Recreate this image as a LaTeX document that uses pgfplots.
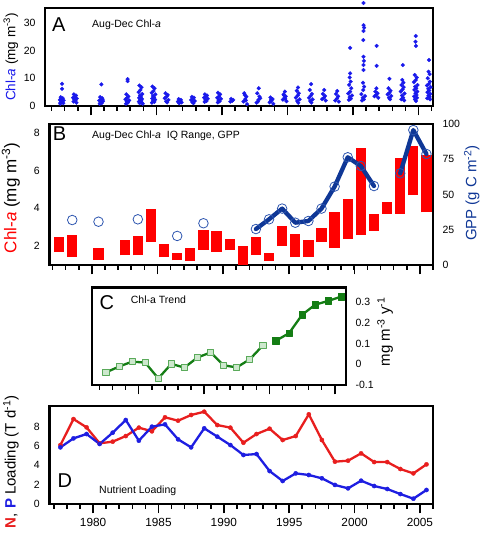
\documentclass[border=0pt]{standalone}
\usepackage{pgfplots}
\usepackage{pgfplotstable}
\pgfplotsset{compat=1.18}
\usepackage{fontspec}
\setmainfont{Liberation Sans}
\definecolor{ablue}{RGB}{25,25,235}
\definecolor{bred}{RGB}{255,0,0}
\definecolor{gppnavy}{RGB}{15,55,150}
\definecolor{gppcirc}{RGB}{45,85,175}
\definecolor{cgreen}{RGB}{20,125,20}
\definecolor{lgreen}{RGB}{90,170,90}
\definecolor{fgreen}{RGB}{205,232,205}
\definecolor{dred}{RGB}{232,30,30}
\definecolor{dblue}{RGB}{30,30,225}

\pgfplotstableread{
x y
1977.80 8.0
1977.80 6.2
1977.70 3.2
1977.86 2.8
1977.78 2.5
1977.64 2.2
1977.92 2.0
1977.74 1.7
1977.82 1.4
1977.68 1.2
1977.90 1.0
1977.76 2.6
1977.84 1.8
1977.66 0.8
1978.70 4.2
1978.86 3.8
1978.78 3.4
1978.64 3.0
1978.92 2.7
1978.74 2.3
1978.82 2.0
1978.68 1.6
1978.90 1.2
1978.76 2.9
1980.80 7.8
1980.70 3.2
1980.86 2.8
1980.78 2.4
1980.64 2.0
1980.92 1.7
1980.74 1.3
1980.82 1.0
1980.68 0.8
1980.90 2.2
1982.80 9.7
1982.80 9.0
1982.70 4.2
1982.86 3.5
1982.78 3.0
1982.64 2.4
1982.92 2.0
1982.74 1.6
1982.82 1.2
1982.68 0.8
1983.70 7.4
1983.86 6.8
1983.78 5.8
1983.64 5.0
1983.92 4.3
1983.74 3.8
1983.82 3.3
1983.68 2.9
1983.90 2.5
1983.76 2.2
1983.84 1.9
1983.66 1.6
1983.88 1.3
1983.72 1.0
1983.96 0.8
1984.70 7.0
1984.86 6.4
1984.78 5.4
1984.64 4.8
1984.92 4.2
1984.74 3.6
1984.82 3.1
1984.68 2.7
1984.90 2.3
1984.76 1.9
1984.84 1.5
1984.66 1.2
1985.70 4.6
1985.86 4.0
1985.78 3.4
1985.64 2.8
1985.92 2.2
1985.74 1.7
1985.82 1.3
1986.70 2.5
1986.86 2.2
1986.78 1.9
1986.64 1.6
1986.92 1.3
1986.74 1.0
1987.70 3.3
1987.86 3.0
1987.78 2.6
1987.64 2.2
1987.92 1.8
1987.74 1.4
1987.82 1.0
1988.70 4.2
1988.86 3.8
1988.78 3.4
1988.64 3.0
1988.92 2.6
1988.74 2.2
1988.82 1.8
1988.68 1.5
1989.70 4.8
1989.86 4.2
1989.78 3.5
1989.64 3.0
1989.92 2.6
1989.74 2.1
1989.82 1.7
1989.68 1.3
1990.70 2.6
1990.86 2.2
1990.78 1.9
1990.64 1.6
1991.70 4.6
1991.86 3.4
1991.78 2.5
1991.64 1.6
1991.92 0.7
1991.74 4.0
1991.82 2.0
1992.80 6.4
1992.70 4.6
1992.86 3.4
1992.78 2.2
1992.64 1.2
1992.92 2.8
1992.74 1.6
1993.70 3.1
1993.86 2.5
1993.78 1.9
1993.64 1.3
1993.92 0.8
1993.74 2.2
1994.80 5.2
1994.70 4.2
1994.86 3.5
1994.78 2.9
1994.64 2.3
1994.92 1.7
1994.74 3.8
1994.82 2.6
1995.80 6.7
1995.70 5.5
1995.86 4.6
1995.78 3.8
1995.64 3.0
1995.92 2.4
1995.74 1.8
1995.82 1.2
1996.80 7.9
1996.70 5.8
1996.86 4.4
1996.78 3.7
1996.64 3.0
1996.92 2.4
1996.74 1.8
1996.82 1.2
1997.80 5.8
1997.70 4.4
1997.86 3.6
1997.78 3.0
1997.64 2.5
1997.92 2.0
1998.80 5.4
1998.70 4.3
1998.86 3.5
1998.78 2.7
1998.64 2.0
1998.92 1.6
1999.78 21.0
1999.78 11.8
1999.74 10.3
1999.82 8.8
1999.70 7.6
1999.86 6.4
1999.78 5.2
1999.64 4.5
1999.92 3.8
1999.74 3.2
1999.82 2.6
1999.68 2.2
2000.80 37.2
2000.80 29.2
2000.84 28.3
2000.80 27.1
2000.78 23.8
2000.80 17.8
2000.82 16.3
2000.80 14.8
2000.80 13.0
2000.76 8.4
2000.84 7.0
2000.78 5.8
2000.64 4.3
2000.92 3.6
2000.74 3.0
2000.82 2.4
2000.68 2.0
2001.80 21.7
2001.80 14.5
2001.78 6.4
2001.70 5.2
2001.86 4.6
2001.78 4.0
2001.64 3.5
2001.92 3.0
2002.78 9.8
2002.70 6.4
2002.86 5.5
2002.78 4.8
2002.64 4.2
2002.92 3.6
2002.74 3.0
2002.82 2.4
2003.80 14.8
2003.76 9.4
2003.84 8.4
2003.70 7.6
2003.86 6.8
2003.78 6.0
2003.64 5.2
2003.92 4.5
2003.74 3.8
2003.82 3.0
2003.68 2.4
2003.90 2.0
2004.78 25.3
2004.76 23.2
2004.80 21.7
2004.70 11.2
2004.86 10.3
2004.78 9.4
2004.64 8.6
2004.92 7.6
2004.74 7.0
2004.82 6.4
2004.68 5.8
2004.90 5.2
2004.76 4.6
2004.84 4.0
2004.66 3.5
2004.88 3.0
2004.72 2.4
2004.80 1.8
2005.80 16.6
2005.76 12.4
2005.84 11.5
2005.70 10.0
2005.86 8.8
2005.78 8.0
2005.64 7.4
2005.92 6.8
2005.74 6.2
2005.82 5.6
2005.68 5.0
2005.90 4.4
2005.76 3.8
2005.84 3.3
2005.66 2.8
2005.88 2.4
}\chla

\pgfplotstableread{
x lo hi
1977.5 1.68 2.47
1978.5 1.42 2.58
1980.5 1.29 1.91
1982.5 1.51 2.32
1983.5 1.51 2.51
1984.5 2.23 3.97
1985.5 1.42 2.11
1986.5 1.24 1.61
1987.5 1.22 1.91
1988.5 1.80 2.84
1989.5 1.70 2.79
1990.5 1.77 2.39
1991.5 0.94 2.00
1992.5 1.52 2.49
1993.5 1.21 1.61
1994.5 2.00 3.05
1995.5 1.42 2.63
1996.5 1.42 2.30
1997.5 2.21 2.97
1998.5 1.89 3.83
1999.5 2.40 4.50
2000.5 2.58 7.19
2001.5 2.81 3.70
2002.5 3.72 4.32
2003.5 3.72 6.66
2004.5 4.69 7.31
2005.5 3.79 6.83
}\iqr

\pgfplotstableread{
x gpp
1978.5 31.9
1980.5 30.7
1983.5 32.4
1986.5 20.6
1988.5 29.6
1992.5 25.5
1993.5 32.4
1994.5 40.0
1995.5 30.0
1996.5 31.2
1997.5 40.0
1998.5 55.6
1999.5 76.4
2000.5 70.2
2001.5 56.0
2003.5 65.0
2004.5 95.7
2005.5 78.7
}\gpp

\pgfplotstableread{
x n p
1977.5 6.10 5.86
1978.5 8.79 6.79
1979.5 7.93 7.24
1980.5 6.28 6.21
1981.5 6.45 7.38
1982.5 7.03 8.69
1983.5 7.90 6.55
1984.5 7.52 8.00
1985.5 8.97 8.24
1986.5 8.62 6.69
1987.5 9.21 5.86
1988.5 9.55 7.83
1989.5 8.17 6.97
1990.5 7.90 6.10
1991.5 6.34 5.07
1992.5 7.24 5.17
1993.5 7.79 3.41
1994.5 6.62 2.38
1995.5 7.03 3.17
1996.5 9.28 3.00
1997.5 6.62 2.66
1998.5 4.38 1.97
1999.5 4.48 1.62
2000.5 5.24 2.41
2001.5 4.34 1.86
2002.5 4.34 1.55
2003.5 3.62 1.03
2004.5 3.17 0.55
2005.5 4.10 1.45
}\load

\pgfplotsset{
  panel/.style={
    scale only axis,
    anchor=south west,
    line width=2.4pt,
    line cap=rect,
    tick align=outside,
    tick pos=left,
    tick style={line width=1.6pt, black, line cap=butt},
    major tick length=9.5pt,
    minor tick length=5pt,
    /pgf/number format/assume math mode=true,
    /pgf/number format/1000 sep={},
    tick label style={font=\fontsize{10.5}{12}\selectfont},
    label style={font=\fontsize{14}{16}\selectfont},
    extra y tick style={tick style={draw=none}},
  },
  yearaxis/.style={
    xtick={1980,1985,1990,1995,2000,2005},
    minor xtick={1977,1978,...,2006},
  },
  % y ticks: short visible ticks are minor ticks; labels come from extra ticks
  yleft/.style={ytick=\empty, minor ytick={#1}, extra y ticks={#1},
    yticklabel style={xshift=4.5pt}},
  yright/.style={ytick=\empty, minor ytick={#1}, extra y ticks={#1},
    ytick pos=right, yticklabel pos=right,
    yticklabel style={xshift=-4.5pt}},
}

\begin{document}
\begin{tikzpicture}
\path[use as bounding box] (0,0) rectangle (484pt,534pt);

% ---------- Panel A ----------
\begin{axis}[panel, yearaxis, yleft={0,10,20,30}, at={(45pt,428pt)}, width=388pt, height=98pt,
  xmin=1976.5, xmax=2006.1, ymin=0, ymax=35.4,
  xticklabels={}, clip=false,
  ylabel={\textcolor{ablue}{Chl-\textit{a}} (mg m\textsuperscript{-3})},
  ylabel style={at={(axis description cs:-0.088,0.5)}, anchor=center, font=\fontsize{13.5}{15}\selectfont}]
\addplot[only marks, mark=*, mark size=1.9pt, color=ablue, mark options={line width=0.3pt}] table[x=x, y=y] {\chla};
\end{axis}

% ---------- Panel B (left: Chl-a IQ range) ----------
\begin{axis}[panel, yearaxis, yleft={2,4,6,8}, at={(49.3pt,269pt)}, width=383.7pt, height=141pt,
  xmin=1976.75, xmax=2006.0, ymin=1.0, ymax=8.47,
  xticklabels={},
  ylabel={\textcolor{bred}{Chl-\textit{a}} (mg m\textsuperscript{-3})},
  ylabel style={at={(axis description cs:-0.1,0.475)}, anchor=center, font=\fontsize{17}{19}\selectfont}]
\addplot[draw=none, mark=none,
  error bars/.cd, y dir=plus, y explicit, error mark=none,
  error bar style={draw=bred, line width=10.3pt, line cap=butt}]
  table[x=x, y=lo, y error expr=\thisrow{hi}-\thisrow{lo}] {\iqr};
\end{axis}

% ---------- Panel B (right: GPP) ----------
\begin{axis}[panel, yright={0,25,50,75,100}, at={(49.3pt,269pt)}, width=383.7pt, height=141pt,
  xmin=1976.75, xmax=2006.0, ymin=0, ymax=100,
  axis y line*=right, axis x line=none,
  ylabel={GPP (g C m\textsuperscript{-2})},
  ylabel style={at={(axis description cs:1.101,0.51)}, anchor=center, color=gppnavy, font=\fontsize{15}{17}\selectfont}]
\addplot[gppnavy, line width=4.3pt, line join=round, line cap=round] coordinates {
  (1992.5,25.5) (1993.5,32.4) (1994.5,40.0) (1995.5,30.0) (1996.5,31.2)
  (1997.5,40.0) (1998.5,55.6) (1999.5,76.4) (2000.5,70.2) (2001.5,56.0)};
\addplot[gppnavy, line width=4.3pt, line join=round, line cap=round] coordinates {
  (2003.5,65.0) (2004.5,95.7) (2005.5,78.7)};
\addplot[only marks, mark=o, mark size=4.8pt, mark options={draw=gppcirc, line width=0.8pt}] table[x=x, y=gpp] {\gpp};
\end{axis}

% ---------- Panel C ----------
\begin{axis}[panel, yright={-0.1,0,0.1,0.2,0.3}, at={(92pt,149pt)}, width=254pt, height=97.3pt,
  xmin=-1.07, xmax=18.36, ymin=-0.1, ymax=0.37,
  xtick={2.5,7.5,12.5,17.5}, minor xtick={-0.5,0.5,...,18.5}, xticklabels={},
  ylabel={mg m\textsuperscript{-3} y\textsuperscript{-1}},
  ylabel style={at={(axis description cs:1.154,0.545)}, anchor=center, font=\fontsize{15}{17}\selectfont}]
\addplot[cgreen, line width=2.3pt, line cap=round, line join=round, mark=square*, mark size=3.1pt,
  mark options={draw=lgreen, fill=fgreen, line width=0.9pt}] coordinates {
  (0,-0.039) (1,-0.011) (2,0.013) (3,0.008) (4,-0.068) (5,0.002) (6,-0.016)
  (7,0.033) (8,0.057) (9,-0.005) (10,-0.015) (11,0.024) (12,0.091)};
\addplot[cgreen, line width=2.3pt, line cap=round, line join=round, mark=square*, mark size=3.2pt,
  mark options={draw=cgreen, fill=cgreen, line width=0.5pt}] coordinates {
  (13,0.114) (14,0.150) (15,0.239) (16,0.288) (17,0.306) (18,0.327)};
\end{axis}

% ---------- Panel D ----------
\begin{axis}[panel, yearaxis, yleft={0,2,4,6,8}, at={(49.3pt,30pt)}, width=383.7pt, height=98pt,
  xmin=1976.65, xmax=2006.0, ymin=0, ymax=10.14,
  xticklabel style={font=\fontsize{11.8}{13}\selectfont},
  ylabel={\textcolor{dred}{\textbf{N}}, \textcolor{dblue}{\textbf{P}} Loading (T d\textsuperscript{-1})},
  ylabel style={at={(axis description cs:-0.1,0.43)}, anchor=center, font=\fontsize{15}{17}\selectfont}]
\addplot[dred, line width=2.3pt, line cap=round, line join=round, mark=*, mark size=2.1pt, mark options={line width=0.4pt}] table[x=x, y=n] {\load};
\addplot[dblue, line width=2.3pt, line cap=round, line join=round, mark=*, mark size=2.1pt, mark options={line width=0.4pt}] table[x=x, y=p] {\load};
\end{axis}

% ---------- panel letters and titles ----------
\node[anchor=base west, inner sep=0, font=\fontsize{20}{22}\selectfont] at (52pt,502pt) {A};
\node[anchor=base west, inner sep=0, font=\fontsize{10.5}{12}\selectfont] at (92pt,506pt) {Aug-Dec Chl-\textit{a}};
\node[anchor=base west, inner sep=0, font=\fontsize{20}{22}\selectfont] at (52.7pt,393.5pt) {B};
\node[anchor=base west, inner sep=0, font=\fontsize{10.5}{12}\selectfont] at (92pt,395.7pt) {Aug-Dec Chl-\textit{a}\ \ IQ Range, GPP};
\node[anchor=base west, inner sep=0, font=\fontsize{20}{22}\selectfont] at (99.3pt,224pt) {C};
\node[anchor=base west, inner sep=0, font=\fontsize{10.5}{12}\selectfont] at (130.7pt,230.7pt) {Chl-a Trend};
\node[anchor=base west, inner sep=0, font=\fontsize{20}{22}\selectfont] at (57.3pt,46.7pt) {D};
\node[anchor=base west, inner sep=0, font=\fontsize{10.5}{12}\selectfont] at (99pt,40pt) {Nutrient Loading};
\end{tikzpicture}
\end{document}
